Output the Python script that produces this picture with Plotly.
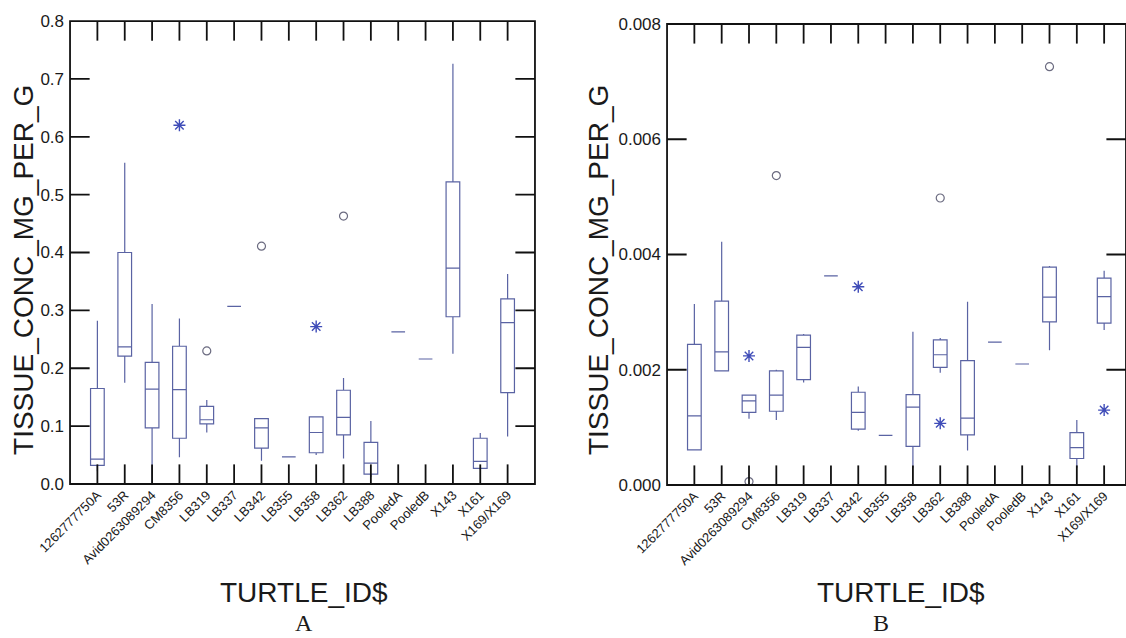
import plotly.graph_objects as go

cats = ["1262777750A", "53R", "Avid0263089294", "CM8356", "LB319", "LB337", "LB342",
        "LB355", "LB358", "LB362", "LB388", "PooledA", "PooledB", "X143", "X161", "X169/X169"]

# Panel A (mg per g)
a_low = [0.022, 0.175, 0.0, 0.046, 0.089, 0.307, 0.040, 0.047, 0.050, 0.044, 0.012, 0.263, 0.216, 0.225, 0.025, 0.082]
a_q1 = [0.032, 0.221, 0.097, 0.079, 0.104, 0.307, 0.062, 0.047, 0.054, 0.085, 0.017, 0.263, 0.216, 0.289, 0.027, 0.158]
a_med = [0.043, 0.237, 0.164, 0.163, 0.111, 0.307, 0.097, 0.047, 0.089, 0.115, 0.036, 0.263, 0.216, 0.373, 0.039, 0.279]
a_q3 = [0.165, 0.400, 0.210, 0.238, 0.134, 0.307, 0.113, 0.047, 0.116, 0.162, 0.072, 0.263, 0.216, 0.522, 0.079, 0.320]
a_high = [0.282, 0.555, 0.311, 0.286, 0.145, 0.307, 0.113, 0.047, 0.116, 0.183, 0.109, 0.263, 0.216, 0.726, 0.088, 0.363]
a_circ_x = ["LB319", "LB342", "LB362"]
a_circ_y = [0.230, 0.411, 0.463]
a_star_x = ["CM8356", "LB358"]
a_star_y = [0.620, 0.272]
a_yticks = [0.0, 0.1, 0.2, 0.3, 0.4, 0.5, 0.6, 0.7, 0.8]

# Panel B
b_low = [0.00061, 0.00197, 0.00115, 0.00113, 0.00178, 0.00363, 0.00094, 0.00086, 0.00030, 0.00195, 0.00060, 0.00248, 0.00210, 0.00234, 0.00030, 0.00269]
b_q1 = [0.00061, 0.00198, 0.00126, 0.00128, 0.00183, 0.00363, 0.00097, 0.00086, 0.00067, 0.00204, 0.00087, 0.00248, 0.00210, 0.00283, 0.00046, 0.00281]
b_med = [0.00120, 0.00231, 0.00146, 0.00156, 0.00239, 0.00363, 0.00126, 0.00086, 0.00135, 0.00226, 0.00116, 0.00248, 0.00210, 0.00326, 0.00065, 0.00327]
b_q3 = [0.00244, 0.00319, 0.00156, 0.00198, 0.00260, 0.00363, 0.00161, 0.00086, 0.00157, 0.00252, 0.00216, 0.00248, 0.00210, 0.00378, 0.00091, 0.00359]
b_high = [0.00314, 0.00422, 0.00156, 0.00200, 0.00262, 0.00363, 0.00171, 0.00086, 0.00266, 0.00255, 0.00318, 0.00248, 0.00210, 0.00380, 0.00113, 0.00372]
b_circ_x = ["Avid0263089294", "CM8356", "LB362", "X143"]
b_circ_y = [0.00006, 0.00537, 0.00498, 0.00726]
b_star_x = ["Avid0263089294", "LB342", "LB362", "X169/X169"]
b_star_y = [0.00224, 0.00344, 0.00107, 0.00130]
b_yticks = [0.000, 0.002, 0.004, 0.006, 0.008]

BOX = "#5a63a3"
STAR = "#3f4cb8"
CIRC = "#6b6b80"
AX = "#111111"
TXT = "#1a1a1a"
FONT = "Liberation Sans, Arial, sans-serif"

fig = go.Figure()


def add_panel(low, q1, med, q3, high, cx, cy, sx, sy, yticks, xa, ya, xo, yo):
    fig.add_trace(go.Box(
        x=cats, lowerfence=low, q1=q1, median=med, q3=q3, upperfence=high,
        boxpoints=False, whiskerwidth=0, width=0.5,
        line=dict(color=BOX, width=1.2), fillcolor="rgba(0,0,0,0)",
        xaxis=xa, yaxis=ya, showlegend=False, hoverinfo="skip"))
    fig.add_trace(go.Scatter(
        x=cx, y=cy, mode="markers", xaxis=xa, yaxis=ya, showlegend=False, hoverinfo="skip",
        marker=dict(symbol="circle-open", size=8, color=CIRC, line=dict(width=1.2))))
    fig.add_trace(go.Scatter(
        x=sx, y=sy, mode="markers", xaxis=xa, yaxis=ya, showlegend=False, hoverinfo="skip",
        marker=dict(symbol="asterisk-open", size=10, color=STAR, line=dict(width=1.4, color=STAR))))
    # inside tick marks on bottom and top edges (one per category), clipped to the plot area
    fig.add_trace(go.Scatter(
        x=cats + cats, y=[0] * len(cats) + [1] * len(cats), mode="markers",
        xaxis=xa, yaxis=yo, showlegend=False, hoverinfo="skip", cliponaxis=True,
        marker=dict(symbol="line-ns-open", size=28, color=AX, line=dict(width=1.8, color=AX))))
    # inside tick marks on left and right edges (one per y tick value)
    fig.add_trace(go.Scatter(
        x=[0] * len(yticks) + [1] * len(yticks), y=yticks + yticks, mode="markers",
        xaxis=xo, yaxis=ya, showlegend=False, hoverinfo="skip", cliponaxis=True,
        marker=dict(symbol="line-ew-open", size=28, color=AX, line=dict(width=1.8, color=AX))))


add_panel(a_low, a_q1, a_med, a_q3, a_high, a_circ_x, a_circ_y, a_star_x, a_star_y,
          a_yticks, "x", "y", "x3", "y3")
add_panel(b_low, b_q1, b_med, b_q3, b_high, b_circ_x, b_circ_y, b_star_x, b_star_y,
          b_yticks, "x2", "y2", "x4", "y4")

fig.update_layout(
    width=1126, height=638,
    margin=dict(l=0, r=0, t=0, b=0),
    paper_bgcolor="white", plot_bgcolor="white",
    showlegend=False, hovermode=False,
)

for xa, dom, rng, ya in (("xaxis", [0.0622, 0.4751], [-1, 16], "y"),
                         ("xaxis2", [0.5924, 1.0], [-1, 15.8], "y2")):
    fig.layout[xa] = dict(
        domain=dom, range=rng, anchor=ya, type="category",
        categoryorder="array", categoryarray=cats,
        showline=False, ticks="", tickangle=-45,
        tickfont=dict(family=FONT, size=13, color=TXT),
        showgrid=False, zeroline=False, automargin=False)

for yax, dom, rng, vals, fmt, xa in (("yaxis", [0.2414, 0.967], [0, 0.8], a_yticks, ".1f", "x"),
                                     ("yaxis2", [0.2398, 0.9624], [0, 0.008], b_yticks, ".3f", "x2")):
    fig.layout[yax] = dict(
        domain=dom, range=rng, tickvals=vals, tickformat=fmt, anchor=xa,
        showline=False, ticks="", ticklabelstandoff=5,
        tickfont=dict(family=FONT, size=17, color=TXT),
        showgrid=False, zeroline=False, automargin=False)

# overlay helper axes (0..1 across each plot area) used only to place the edge tick marks
for ox, base in (("xaxis3", "x"), ("xaxis4", "x2")):
    fig.layout[ox] = dict(overlaying=base, range=[0, 1], visible=False, showgrid=False, zeroline=False)
for oy, base in (("yaxis3", "y"), ("yaxis4", "y2")):
    fig.layout[oy] = dict(overlaying=base, range=[0, 1], visible=False, showgrid=False, zeroline=False)

# plot frames
for xr, yr in (("x domain", "y domain"), ("x2 domain", "y2 domain")):
    fig.add_shape(type="rect", xref=xr, yref=yr, x0=0, x1=1, y0=0, y1=1,
                  line=dict(color=AX, width=1.8), fillcolor="rgba(0,0,0,0)", layer="above")

ann = []
for xp in (0.0204, 0.5311):
    ann.append(dict(x=xp, y=0.5768, xref="paper", yref="paper", text="TISSUE_CONC_MG_PER_G",
                    textangle=-90, showarrow=False, xanchor="center", yanchor="middle",
                    font=dict(family=FONT, size=28, color=TXT)))
for xp in (0.270, 0.8002):
    ann.append(dict(x=xp, y=0.0721, xref="paper", yref="paper", text="TURTLE_ID$",
                    showarrow=False, xanchor="center", yanchor="middle",
                    font=dict(family=FONT, size=28, color=TXT)))
for xp, t in ((0.270, "A"), (0.7824, "B")):
    ann.append(dict(x=xp, y=0.0, xref="paper", yref="paper", text=t,
                    showarrow=False, xanchor="center", yanchor="bottom",
                    font=dict(family="Liberation Serif, Times New Roman, serif", size=24, color=TXT)))
fig.update_layout(annotations=ann)

fig.write_html("out.html")
